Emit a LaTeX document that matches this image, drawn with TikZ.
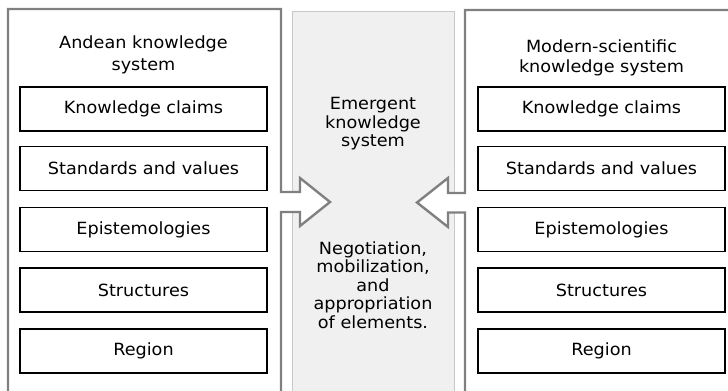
\documentclass[tikz,border=0pt]{standalone}
\usepackage{fontspec}
\setmainfont{DejaVu Sans}[FakeStretch=1.05]
\usepackage{tikz}

\definecolor{panelgray}{RGB}{128,128,128}
\definecolor{midfill}{RGB}{240,240,240}
\definecolor{midline}{RGB}{200,200,200}

\begin{document}
\begin{tikzpicture}[x=0.75pt, y=-0.75pt,
  item/.style={rectangle, draw=black, line width=1.2pt, minimum width=185pt, minimum height=33pt, inner sep=0pt, font=\fontsize{12.6}{13.5}\selectfont},
  head/.style={align=center, font=\fontsize{12.6}{16.5}\selectfont},
  midtext/.style={align=center, font=\fontsize{12.6}{13.8}\selectfont},
  outline/.style={draw=panelgray, line width=1.8pt, fill=white, line join=miter}]
\useasboundingbox (0,0) rectangle (728,391);
\clip (0,0) rectangle (728,391);

% middle column
\node (mid) at (373.25,203) [rectangle, draw=midline, fill=midfill, line width=0.6pt, minimum width=121.9pt, minimum height=288pt] {};

% left column with arrow
\filldraw[outline] (8,400) -- (8,9) -- (281,9) -- (281,192) -- (300,192) -- (300,178)
  -- (330,202) -- (300,226) -- (300,212) -- (281,212) -- (281,400) -- cycle;
% right column with arrow
\filldraw[outline] (740,400) -- (740,10) -- (465,10) -- (465,193) -- (448,193) -- (448,178)
  -- (417,202.5) -- (448,227) -- (448,212.5) -- (465,212.5) -- (465,400) -- cycle;

\node (andean) at (143.5,55) [head] {Andean knowledge\\system};
\node (modern) at (601.5,58) [head, font=\fontsize{12.6}{15.5}\selectfont] {Modern-scientific\\knowledge system};

\node (emerg) at (373,124) [midtext] {Emergent\\knowledge\\system};
\node (nego) at (373,285) [midtext] {Negotiation,\\mobilization,\\and\\appropriation\\of elements.};

\node (claimsA) at (143.5,109) [item] {Knowledge claims};
\node (valuesA) at (143.5,168.5) [item] {Standards and values};
\node (epistA) at (143.5,229.5) [item] {Epistemologies};
\node (structA) at (143.5,290) [item] {Structures};
\node (regionA) at (143.5,351) [item] {Region};

\node (claimsB) at (601.5,109) [item] {Knowledge claims};
\node (valuesB) at (601.5,168.5) [item] {Standards and values};
\node (epistB) at (601.5,229.5) [item] {Epistemologies};
\node (structB) at (601.5,290) [item] {Structures};
\node (regionB) at (601.5,351) [item] {Region};
\end{tikzpicture}
\end{document}
